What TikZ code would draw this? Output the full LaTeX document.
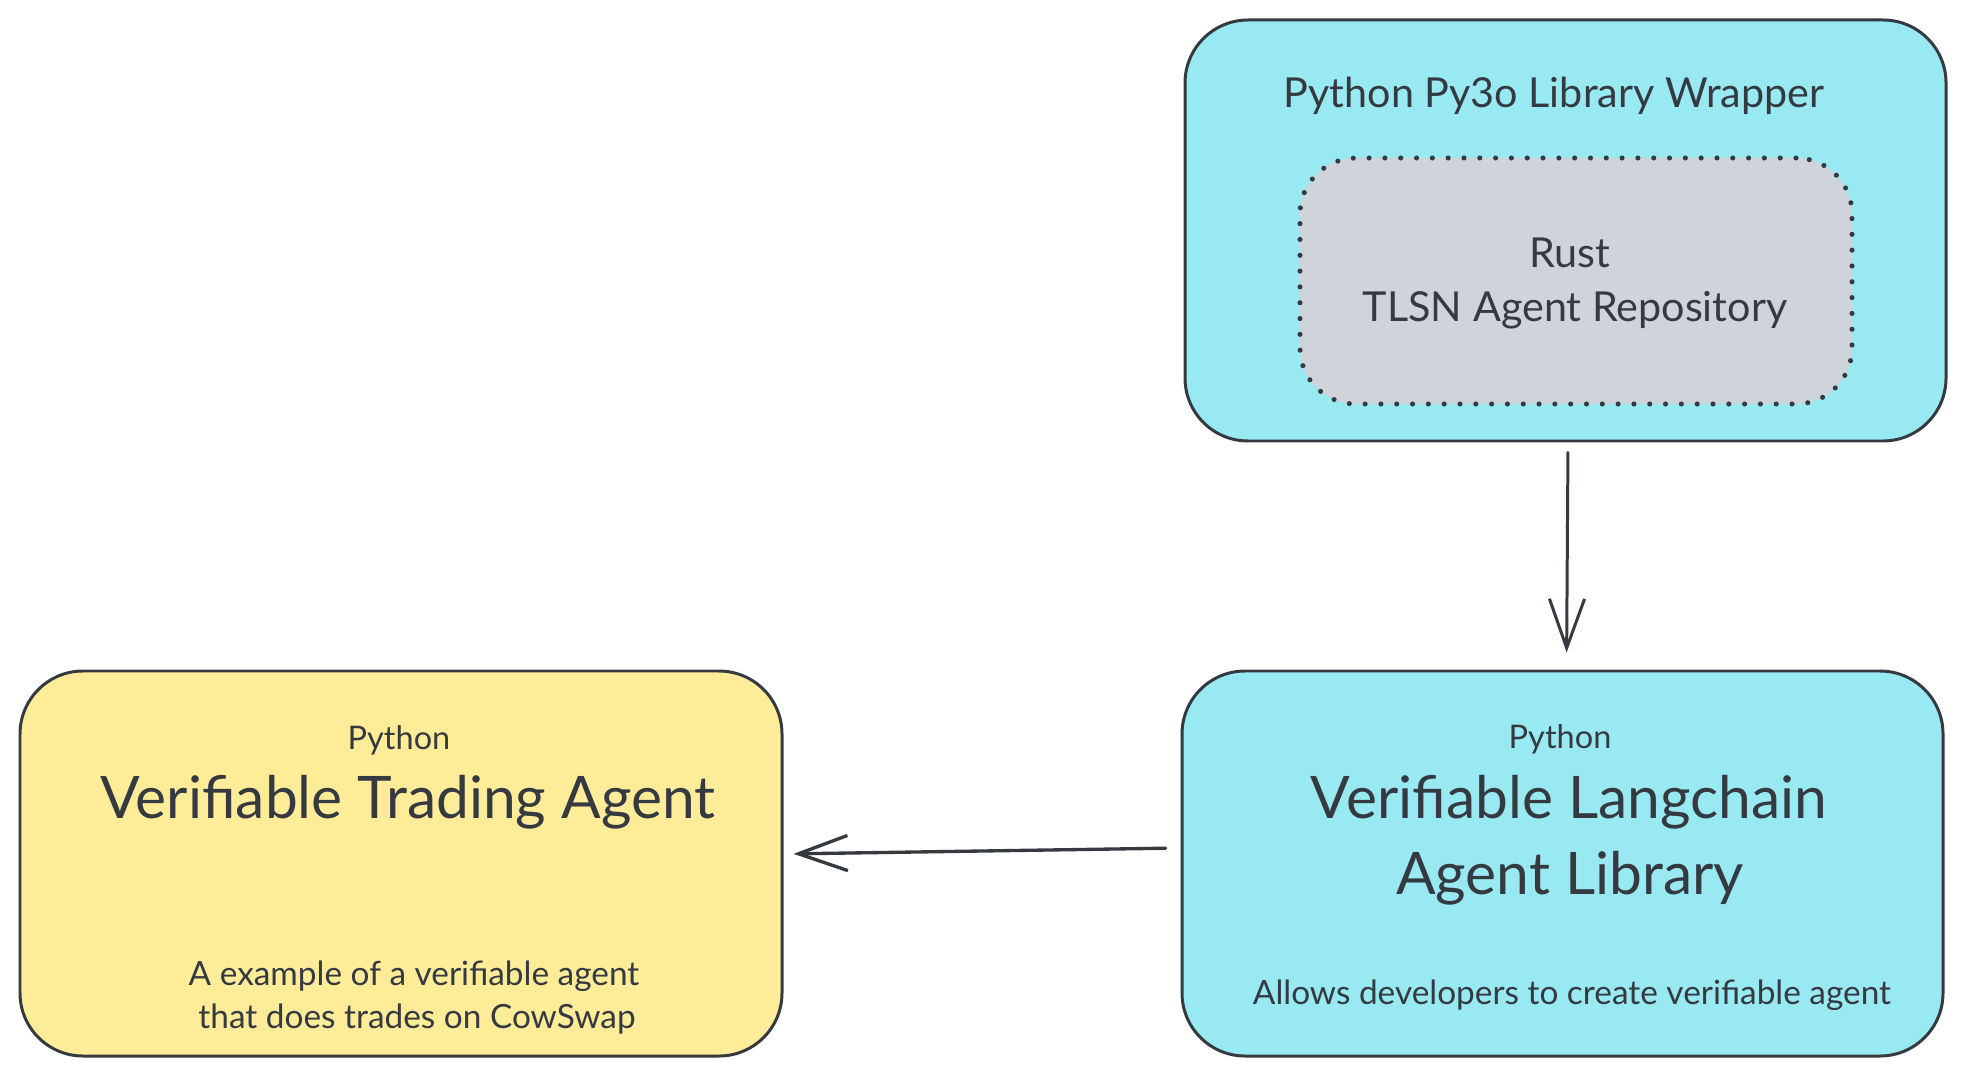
\documentclass[tikz,border=0pt]{standalone}
\usepackage{fontspec}
\setmainfont{Lato}
\usetikzlibrary{arrows.meta}
\definecolor{inkgray}{HTML}{343A40}
\definecolor{cyanfill}{HTML}{99E9F2}
\definecolor{yellowfill}{HTML}{FFEC99}
\definecolor{grayfill}{HTML}{CED4DA}

\begin{document}
\begin{tikzpicture}[x=0.02cm,y=-0.02cm,
  box/.style={draw=inkgray, line width=1.7pt, rounded corners=1.26cm, inner sep=0pt},
  txt/.style={anchor=base, text=inkgray, inner sep=0pt},
  link/.style={draw=inkgray, line width=1.7pt, line cap=round, line join=round,
    -{Straight Barb[length=28pt,width=20pt]}}]
  \newcommand{\pxu}{0.02cm}
  \newcommand{\fsz}[1]{\fontsize{#1}{#1}\selectfont}
  \useasboundingbox (0,0) rectangle (1966,1077);

% wrapper with the rust repository inside
  \node[box, fill=cyanfill, minimum width=761*\pxu, minimum height=421*\pxu] (wrapper) at (1565.5,230.5) {};
  \node[txt, font=\fsz{23.5pt}] (wraptitle) at (1554,108) {Python Py3o Library Wrapper};
  \node[box, fill=grayfill, line width=2.9pt, line cap=round, dash pattern=on 0pt off 9pt,
    rounded corners=1.12cm, minimum width=552*\pxu, minimum height=246*\pxu] (repo) at (1576,281) {};
  \node[txt, font=\fsz{23.5pt}] (repolang) at (1570,268) {Rust};
  \node[txt, font=\fsz{23.5pt}] (reponame) at (1575,322) {TLSN Agent Repository};

% langchain agent library
  \node[box, fill=cyanfill, minimum width=761*\pxu, minimum height=385*\pxu] (library) at (1562.5,863.5) {};
  \node[txt, font=\fsz{18.5pt}] (liblang) at (1560,748) {Python};
  \node[txt, font=\fsz{33.4pt}] (libname) at (1569,818) {Verifiable Langchain};
  \node[txt, font=\fsz{33.4pt}] (libname2) at (1570,894) {Agent Library};
  \node[txt, font=\fsz{19pt}] (libdesc) at (1572,1004) {Allows developers to create verifiable agent};

% trading agent
  \node[box, fill=yellowfill, minimum width=762*\pxu, minimum height=385*\pxu] (trading) at (401,863.5) {};
  \node[txt, font=\fsz{18.5pt}] (tradelang) at (399,749) {Python};
  \node[txt, font=\fsz{33.4pt}] (tradename) at (408,818) {Verifiable Trading Agent};
  \node[txt, font=\fsz{19pt}] (tradedesc) at (414,985) {A example of a verifiable agent};
  \node[txt, font=\fsz{19pt}] (tradedesc2) at (417,1028) {that does trades on CowSwap};

% connectors
  \draw[link, shorten <=5.7pt, shorten >=9.7pt] ([xshift=2.5*\pxu]wrapper.south) -- ([xshift=4*\pxu]library.north);
  \draw[link, line width=1.9pt, shorten <=8.5pt, shorten >=5.7pt] ([yshift=15.5*\pxu]library.west) -- ([yshift=9.5*\pxu]trading.east);
\end{tikzpicture}
\end{document}
